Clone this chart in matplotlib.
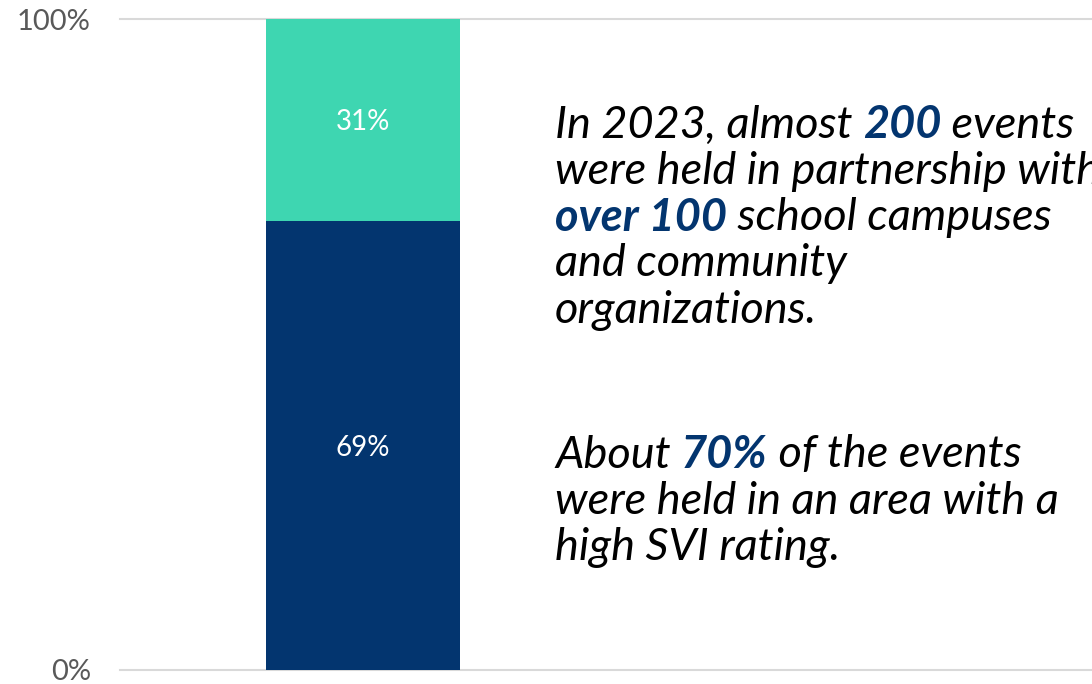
import matplotlib
matplotlib.use("Agg")
import matplotlib.pyplot as plt

plt.rcParams['font.family'] = ['Lato', 'DejaVu Sans']

# data
categories = ["Events"]
high_svi = [69]
other_svi = [31]
y_ticks = [0, 100]
y_tick_labels = ["0%", "100%"]

navy = "#03356F"
teal = "#3ED6B1"

# annotation text: list of lines, each line a list of (text, highlighted)
para1 = [
    [("In 2023, almost ", False), ("200", True), (" events", False)],
    [("were held in partnership with", False)],
    [("over 100", True), (" school campuses", False)],
    [("and community", False)],
    [("organizations.", False)],
]
para2 = [
    [("About ", False), ("70%", True), (" of the events", False)],
    [("were held in an area with a", False)],
    [("high SVI rating.", False)],
]

fig = plt.figure(figsize=(10.92, 6.84), dpi=100)
ax = fig.add_axes([120 / 1092, 14 / 684, 972 / 1092, 651 / 684])

x = list(range(len(categories)))
ax.bar(x, high_svi, width=0.4, color=navy, zorder=3)
ax.bar(x, other_svi, bottom=high_svi, width=0.4, color=teal, zorder=3)

for i in x:
    ax.text(i, high_svi[i] / 2, f"{high_svi[i]}%", ha="center", va="center_baseline",
            color="white", fontsize=20, zorder=4)
    ax.text(i, high_svi[i] + other_svi[i] / 2, f"{other_svi[i]}%", ha="center",
            va="center_baseline", color="white", fontsize=20, zorder=4)

ax.set_xlim(-0.5, 1.5)
ax.set_ylim(0, 100)
ax.set_yticks(y_ticks)
ax.set_yticklabels(y_tick_labels, color="#595959", fontsize=21)
ax.set_xticks([])
ax.tick_params(axis="y", length=0, pad=21)
for s in ax.spines.values():
    s.set_visible(False)
for t in y_ticks:
    ax.axhline(t, color="#D9D9D9", lw=1.5, zorder=1, clip_on=False)

# rich text drawn piece by piece
renderer = fig.canvas.get_renderer()


def draw_para(lines, x0, y0, step):
    for n, line in enumerate(lines):
        xp = x0
        yp = y0 - n * step
        for txt, hl in line:
            t = fig.text(xp / 1092, yp / 684, txt, fontsize=32.5, style="italic",
                         weight="bold" if hl else "normal",
                         color=navy if hl else "black", va="center", ha="left")
            bb = t.get_window_extent(renderer=renderer)
            xp += bb.width


draw_para(para1, 555, 684 - 125, 46.3)
draw_para(para2, 555, 684 - 455, 46.3)

fig.savefig("out.png", dpi=100)
